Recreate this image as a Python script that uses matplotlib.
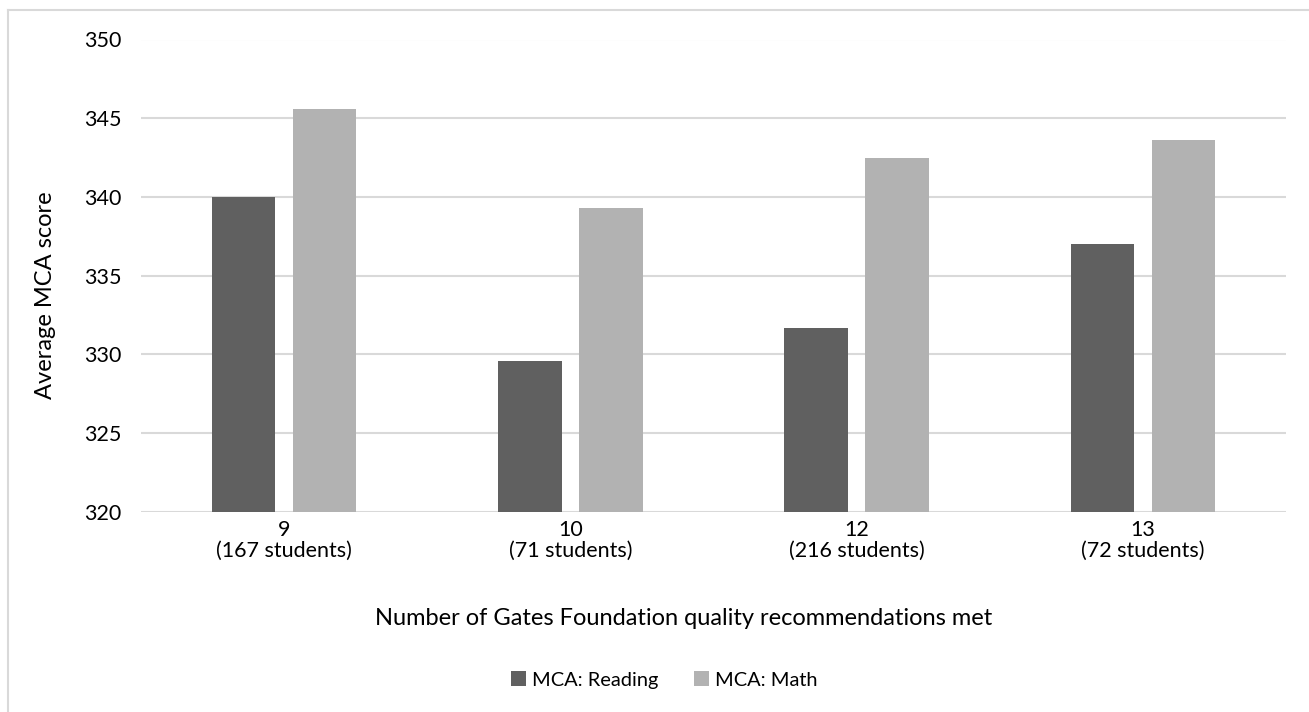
import numpy as np
import matplotlib
matplotlib.use("Agg")
import matplotlib.pyplot as plt
from matplotlib.lines import Line2D

# average MCA scores by number of Gates Foundation recommendations met
groups = ["9", "10", "12", "13"]
students = [167, 71, 216, 72]
reading = [340.0, 329.6, 331.7, 337.0]
math = [345.6, 339.3, 342.5, 343.6]

plt.rcParams["font.family"] = ["Lato", "DejaVu Sans"]
fs = 15.5

fig = plt.figure(figsize=(13.09, 7.12), dpi=100)
ax = fig.add_axes([141 / 1309, 1 - 511.7 / 712, (1286 - 141) / 1309, (511.7 - 39.5) / 712])

x = np.arange(len(groups))
w = 0.222
off = 0.1415
ax.bar(x - off, np.array(reading) - 320, w, bottom=320, color="#606060", label="MCA: Reading", zorder=3)
ax.bar(x + off, np.array(math) - 320, w, bottom=320, color="#b2b2b2", label="MCA: Math", zorder=3)

ax.set_xlim(-0.5, 3.5)
ax.set_ylim(320, 350)
ax.set_yticks(np.arange(320, 351, 5))
ax.set_xticks(x)
ax.set_xticklabels([f"{g}\n({n} students)" for g, n in zip(groups, students)], linespacing=1.08)
ax.tick_params(length=0, labelsize=fs, colors="black")
ax.tick_params(axis="y", pad=14)
ax.tick_params(axis="x", pad=6)

ax.grid(axis="y", color="#d9d9d9", linewidth=1.5, zorder=0)
for s in ax.spines.values():
    s.set_visible(False)

ax.set_ylabel("Average MCA score", fontsize=17)
ax.yaxis.set_label_coords(-0.074, 0.459)
ax.set_xlabel("Number of Gates Foundation quality recommendations met", fontsize=17)
ax.xaxis.set_label_coords(0.474, -0.203)

fig.legend(loc="center", bbox_to_anchor=(664 / 1309, 1 - 680 / 712), ncol=2, frameon=False,
           fontsize=fs * 0.93, handlelength=0.75, handleheight=0.75, handletextpad=0.3,
           columnspacing=1.8)

# outer chart border (top and left edges show)
fig.add_artist(Line2D([8 / 1309, 1], [1 - 10 / 712, 1 - 10 / 712], color="#d9d9d9", linewidth=1.5))
fig.add_artist(Line2D([8 / 1309, 8 / 1309], [0, 1 - 10 / 712], color="#d9d9d9", linewidth=1.5))

fig.savefig("out.png", dpi=100, facecolor="white")
